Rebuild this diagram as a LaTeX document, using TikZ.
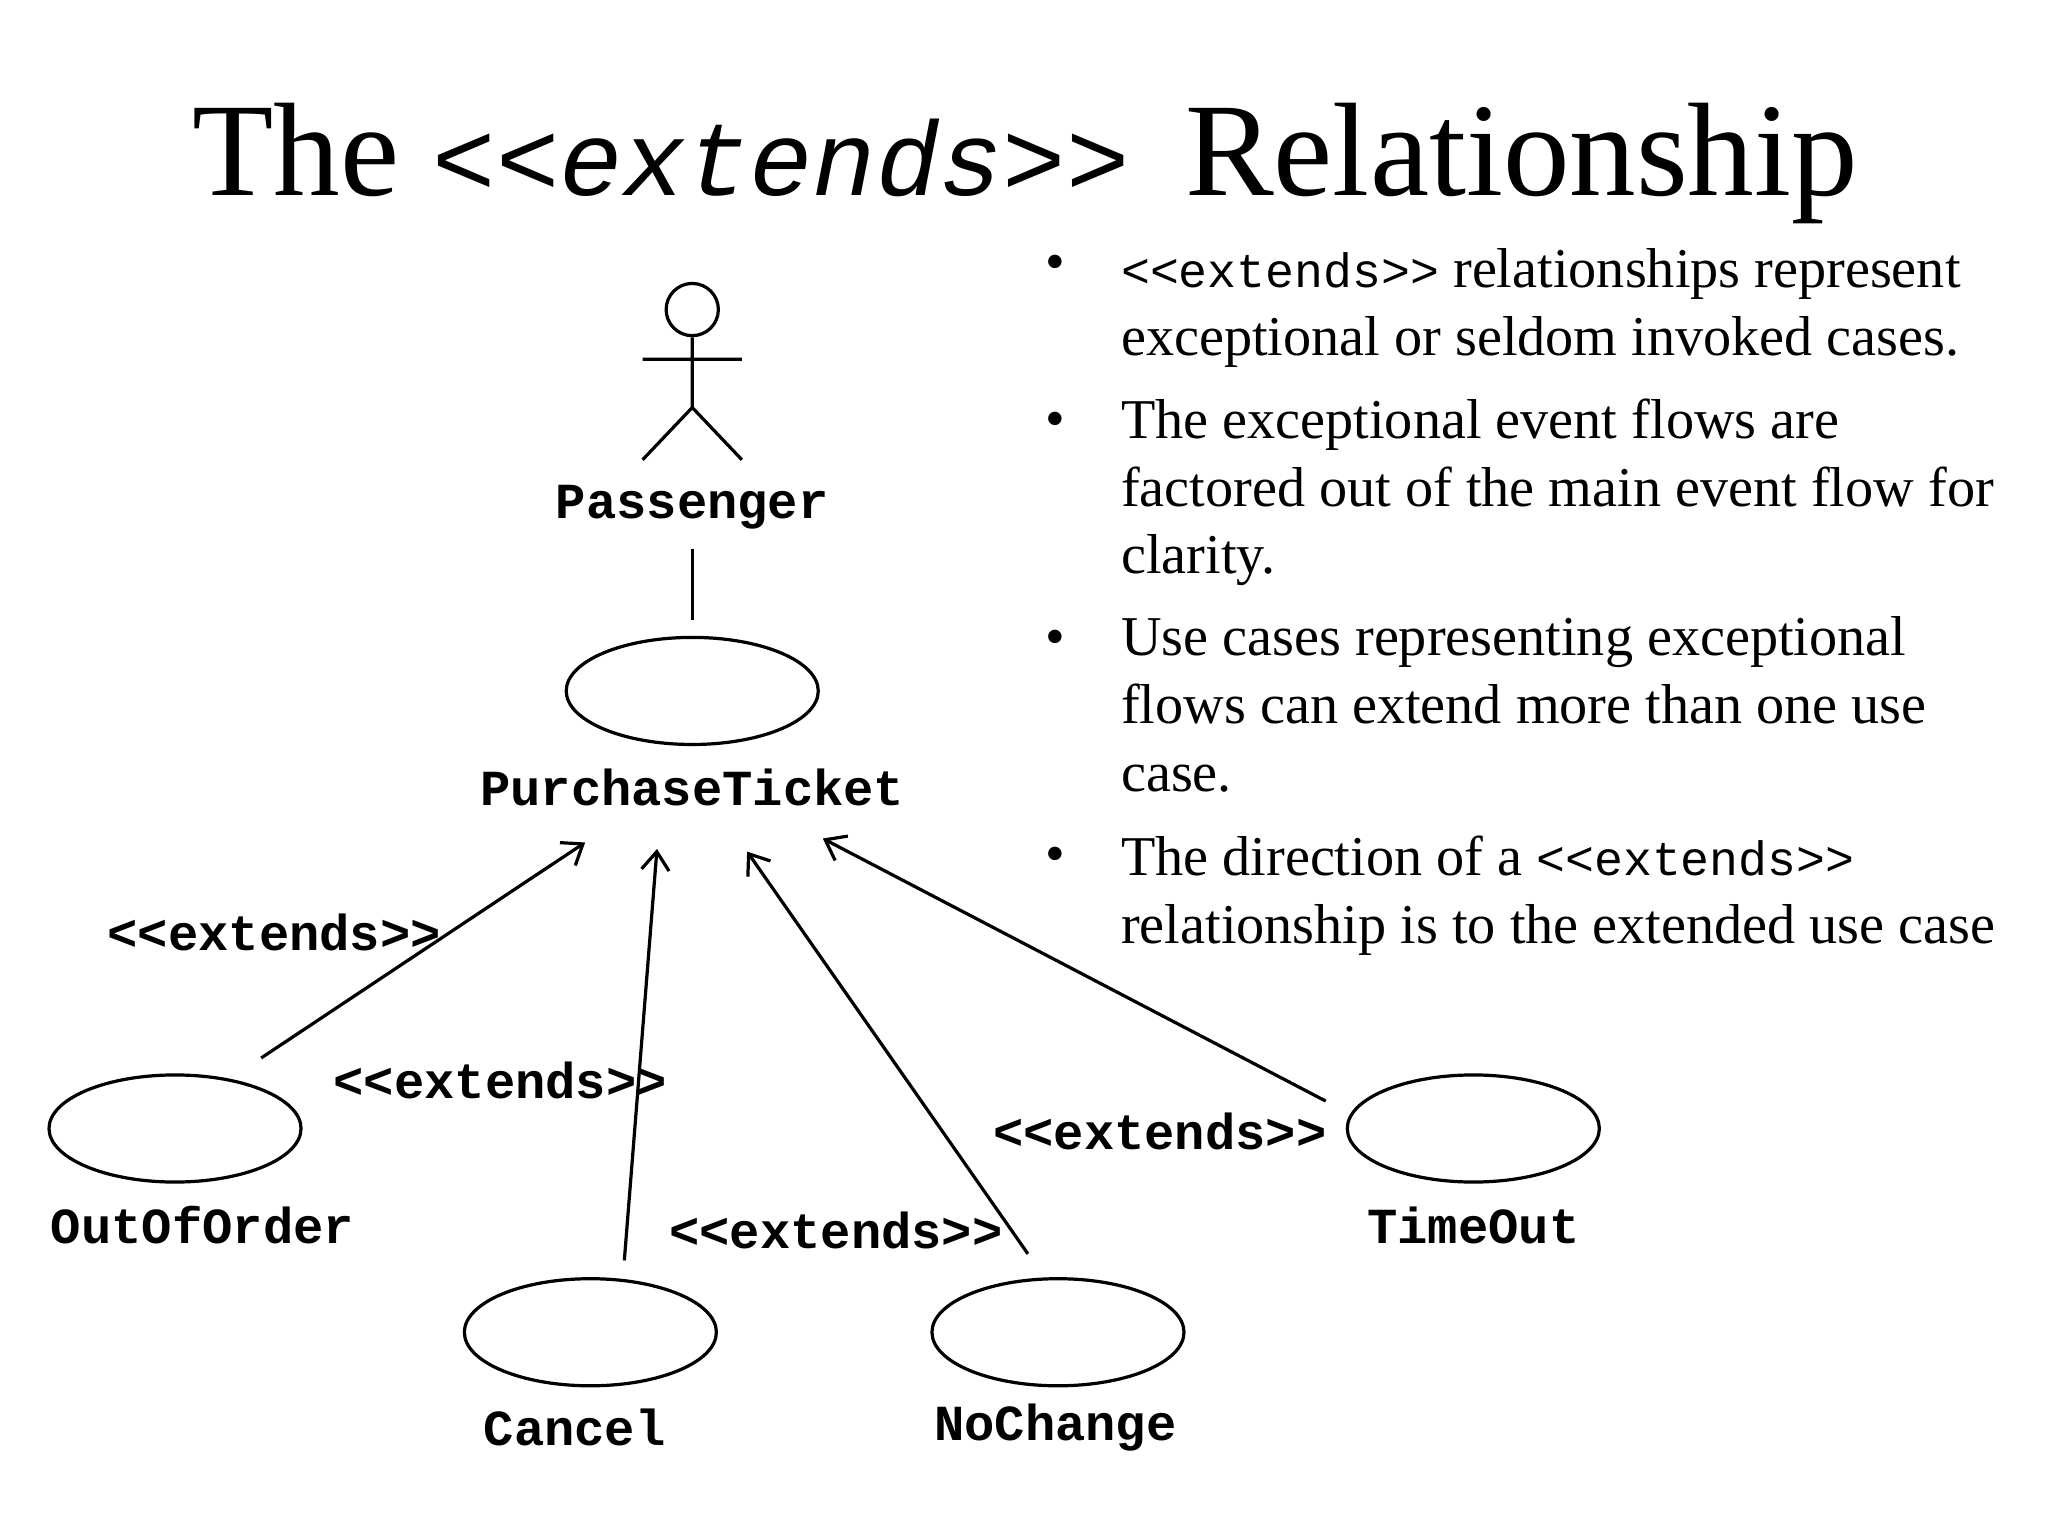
\documentclass[tikz,border=0pt]{standalone}
\usepackage{fontspec}
\setmainfont{Liberation Serif}
\setmonofont{Liberation Mono}
\usetikzlibrary{arrows.meta,shapes.geometric}
\begin{document}
\begin{tikzpicture}[x=0.02cm,y=-0.02cm,
  uc/.style={draw,line width=1.4pt,ellipse,minimum width=3.86cm,minimum height=1.64cm,inner sep=0pt},
  lab/.style={font=\fontsize{22}{24}\selectfont\ttfamily\bfseries},
  ext/.style={line width=1.4pt,-{Straight Barb[length=8pt,width=12pt,line width=1.4pt]}},
  bul/.style={anchor=north west,align=left,inner sep=0pt,font=\fontsize{24.5}{29.5}\selectfont}]
\useasboundingbox (0,0) rectangle (1568,1176);
\node[anchor=base,inner sep=0pt] (title) at (785,150) {\fontsize{58}{70}\selectfont The \texttt{\itshape\fontsize{46}{60}\selectfont <<extends>>}\, Relationship};
% actor
\node[draw,circle,line width=1.4pt,minimum size=0.8cm,inner sep=0pt] (head) at (530,237) {};
\coordinate (hip) at (530,312);
\draw[line width=1.4pt] (head.south) -- (hip) (492,275) -- (568,275) (492,352) -- (hip) -- (568,352);
\node[lab] (pass) at (530,388) {Passenger};
\node[uc] (pt) at (530,529) {};
\node[lab] (ptl) at (530,603) {PurchaseTicket};
\coordinate (a1) at (530,420); \coordinate (a2) at (530,475);
\draw[line width=1.4pt] (a1) -- (a2);
\node[uc] (oo) at (134,864) {}; \node[lab] (ool) at (155,938) {OutOfOrder};
\node[uc] (ca) at (452,1020) {}; \node[lab] (cal) at (440,1093) {Cancel};
\node[uc] (nc) at (810,1020) {}; \node[lab] (ncl) at (808,1093) {NoChange};
\node[uc] (to) at (1128,864) {}; \node[lab] (tol) at (1128,938) {TimeOut};
\coordinate (s1) at (200,810); \coordinate (e1) at (448,645);
\coordinate (s2) at (478,965); \coordinate (e2) at (503,650);
\coordinate (s3) at (787,960); \coordinate (e3) at (572,652);
\coordinate (s4) at (1015,843); \coordinate (e4) at (630,642);
\draw[ext] (s1) -- (e1); \draw[ext] (s2) -- (e2); \draw[ext] (s3) -- (e3); \draw[ext] (s4) -- (e4);
\node[lab] (x1) at (210,714) {<<extends>>};
\node[lab] (x2) at (383,827) {<<extends>>};
\node[lab] (x3) at (640,942) {<<extends>>};
\node[lab] (x4) at (888,866) {<<extends>>};
% bullets
\foreach \y in {205,325,492,658} \node[bul,anchor=center] at (808,\y) {•};
\node[bul] (b1) at (858,190) {{\ttfamily\fontsize{21}{29.5}\selectfont <<extends>>} relationships represent\\exceptional or seldom invoked cases.};
\node[bul] (b2) at (858,305) {The exceptional event flows are\\factored out of the main event flow for\\clarity.};
\node[bul] (b3) at (858,472) {Use cases representing exceptional\\flows can extend more than one use\\case.};
\node[bul] (b4) at (858,640) {The direction of a {\ttfamily\fontsize{21}{29.5}\selectfont <<extends>>}\\relationship is to the extended use case};
\end{tikzpicture}
\end{document}
